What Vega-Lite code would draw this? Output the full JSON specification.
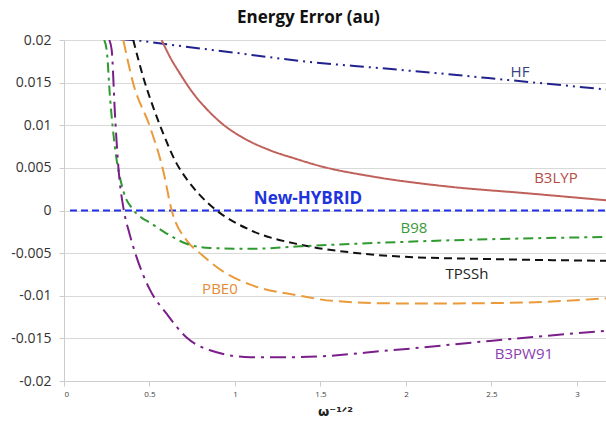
{
  "$schema": "https://vega.github.io/schema/vega-lite/v6.json",
  "width": 542,
  "height": 341,
  "autosize": {"type": "none"},
  "padding": {"left": 64, "top": 40, "right": 0, "bottom": 44},
  "background": "white",
  "title": {"text": "Energy Error (au)", "font": "Open Sans", "fontSize": 17, "fontWeight": "bold", "color": "#111111", "anchor": "middle", "frame": "bounds", "offset": 6},
  "config": {"view": {"stroke": null}},
  "datasets": {
    "curves": [
      {"series": "HF", "x": 0.33, "y": 0.0201},
      {"series": "HF", "x": 0.45, "y": 0.0199},
      {"series": "HF", "x": 0.6, "y": 0.0195},
      {"series": "HF", "x": 1.0, "y": 0.0185},
      {"series": "HF", "x": 1.4, "y": 0.0175},
      {"series": "HF", "x": 1.85, "y": 0.0167},
      {"series": "HF", "x": 2.24, "y": 0.016},
      {"series": "HF", "x": 2.6, "y": 0.0153},
      {"series": "HF", "x": 3.17, "y": 0.0142},
      {"series": "B3LYP", "x": 0.571, "y": 0.02},
      {"series": "B3LYP", "x": 0.62, "y": 0.018},
      {"series": "B3LYP", "x": 0.68, "y": 0.016},
      {"series": "B3LYP", "x": 0.75, "y": 0.0139},
      {"series": "B3LYP", "x": 0.83, "y": 0.012},
      {"series": "B3LYP", "x": 0.93, "y": 0.0101},
      {"series": "B3LYP", "x": 1.05, "y": 0.0085},
      {"series": "B3LYP", "x": 1.2, "y": 0.0071},
      {"series": "B3LYP", "x": 1.35, "y": 0.0061},
      {"series": "B3LYP", "x": 1.5, "y": 0.0052},
      {"series": "B3LYP", "x": 1.8, "y": 0.004},
      {"series": "B3LYP", "x": 2.25, "y": 0.0028},
      {"series": "B3LYP", "x": 2.72, "y": 0.002},
      {"series": "B3LYP", "x": 3.17, "y": 0.0012},
      {"series": "New-HYBRID", "x": 0.035, "y": 0},
      {"series": "New-HYBRID", "x": 3.17, "y": 0},
      {"series": "TPSSh", "x": 0.405, "y": 0.02},
      {"series": "TPSSh", "x": 0.464, "y": 0.0156},
      {"series": "TPSSh", "x": 0.522, "y": 0.0121},
      {"series": "TPSSh", "x": 0.581, "y": 0.009},
      {"series": "TPSSh", "x": 0.659, "y": 0.0055},
      {"series": "TPSSh", "x": 0.717, "y": 0.0037},
      {"series": "TPSSh", "x": 0.795, "y": 0.0018},
      {"series": "TPSSh", "x": 0.893, "y": 0},
      {"series": "TPSSh", "x": 1.09, "y": -0.0023},
      {"series": "TPSSh", "x": 1.38, "y": -0.004},
      {"series": "TPSSh", "x": 1.67, "y": -0.0049},
      {"series": "TPSSh", "x": 1.96, "y": -0.0054},
      {"series": "TPSSh", "x": 2.5, "y": -0.0057},
      {"series": "TPSSh", "x": 3.17, "y": -0.0059},
      {"series": "PBE0", "x": 0.347, "y": 0.02},
      {"series": "PBE0", "x": 0.405, "y": 0.0149},
      {"series": "PBE0", "x": 0.503, "y": 0.0098},
      {"series": "PBE0", "x": 0.58, "y": 0.0047},
      {"series": "PBE0", "x": 0.63, "y": 0},
      {"series": "PBE0", "x": 0.717, "y": -0.0035},
      {"series": "PBE0", "x": 0.795, "y": -0.005},
      {"series": "PBE0", "x": 0.95, "y": -0.0074},
      {"series": "PBE0", "x": 1.09, "y": -0.0087},
      {"series": "PBE0", "x": 1.38, "y": -0.01},
      {"series": "PBE0", "x": 1.57, "y": -0.0106},
      {"series": "PBE0", "x": 1.96, "y": -0.0109},
      {"series": "PBE0", "x": 2.2, "y": -0.0109},
      {"series": "PBE0", "x": 2.68, "y": -0.0108},
      {"series": "PBE0", "x": 3.17, "y": -0.0103},
      {"series": "B98", "x": 0.235, "y": 0.02},
      {"series": "B98", "x": 0.25, "y": 0.0188},
      {"series": "B98", "x": 0.269, "y": 0.0133},
      {"series": "B98", "x": 0.298, "y": 0.0074},
      {"series": "B98", "x": 0.347, "y": 0.0023},
      {"series": "B98", "x": 0.4, "y": 0.0002},
      {"series": "B98", "x": 0.45, "y": -0.0008},
      {"series": "B98", "x": 0.5, "y": -0.0014},
      {"series": "B98", "x": 0.6, "y": -0.0027},
      {"series": "B98", "x": 0.717, "y": -0.0039},
      {"series": "B98", "x": 0.854, "y": -0.0044},
      {"series": "B98", "x": 1.09, "y": -0.0045},
      {"series": "B98", "x": 1.38, "y": -0.0042},
      {"series": "B98", "x": 1.96, "y": -0.0037},
      {"series": "B98", "x": 2.26, "y": -0.0035},
      {"series": "B98", "x": 3.17, "y": -0.0031},
      {"series": "B3PW91", "x": 0.265, "y": 0.02},
      {"series": "B3PW91", "x": 0.279, "y": 0.0188},
      {"series": "B3PW91", "x": 0.298, "y": 0.0113},
      {"series": "B3PW91", "x": 0.318, "y": 0.0051},
      {"series": "B3PW91", "x": 0.35, "y": 0},
      {"series": "B3PW91", "x": 0.38, "y": -0.0025},
      {"series": "B3PW91", "x": 0.42, "y": -0.0052},
      {"series": "B3PW91", "x": 0.5, "y": -0.0092},
      {"series": "B3PW91", "x": 0.6, "y": -0.0121},
      {"series": "B3PW91", "x": 0.717, "y": -0.0149},
      {"series": "B3PW91", "x": 0.854, "y": -0.0164},
      {"series": "B3PW91", "x": 1.09, "y": -0.0172},
      {"series": "B3PW91", "x": 1.36, "y": -0.0172},
      {"series": "B3PW91", "x": 1.91, "y": -0.0164},
      {"series": "B3PW91", "x": 2.49, "y": -0.0153},
      {"series": "B3PW91", "x": 3.17, "y": -0.0141}
    ],
    "labels": [
      {"label": "HF", "x": 2.667, "y": 0.0162},
      {"label": "B3LYP", "x": 2.877, "y": 0.0038},
      {"label": "B98", "x": 2.047, "y": -0.002},
      {"label": "TPSSh", "x": 2.357, "y": -0.0074},
      {"label": "PBE0", "x": 0.912, "y": -0.0092},
      {"label": "B3PW91", "x": 2.69, "y": -0.0168}
    ],
    "boldlabels": [
      {"label": "New-HYBRID", "x": 1.427, "y": 0.0013}
    ]
  },
  "layer": [
    {
      "data": {"name": "curves"},
      "mark": {"type": "line", "interpolate": "monotone", "clip": true},
      "encoding": {
        "x": {
          "field": "x", "type": "quantitative",
          "scale": {"domain": [0, 3.17], "nice": false, "zero": false},
          "axis": {
            "values": [0, 0.5, 1, 1.5, 2, 2.5, 3],
            "labelExpr": "datum.value + ''",
            "labelFont": "Open Sans", "labelFontSize": 8, "labelColor": "#444444",
            "tickSize": 5, "tickColor": "#cccccc", "domainColor": "#cccccc",
            "labelPadding": 4, "grid": false,
            "title": "ω⁻¹ᐟ²", "titleFont": "DejaVu Sans", "titleFontSize": 13, "titleFontWeight": "bold", "titleColor": "#222222", "titlePadding": 7
          }
        },
        "y": {
          "field": "y", "type": "quantitative",
          "scale": {"domain": [-0.02, 0.02], "nice": false},
          "axis": {
            "values": [-0.02, -0.015, -0.01, -0.005, 0, 0.005, 0.01, 0.015, 0.02],
            "labelExpr": "datum.value + ''",
            "labelFont": "Open Sans", "labelFontSize": 14, "labelColor": "#333333",
            "tickSize": 5, "tickColor": "#cccccc", "domainColor": "#cccccc",
            "gridColor": "#d9d9d9", "labelPadding": 8, "title": null
          }
        },
        "color": {
          "field": "series", "type": "nominal", "legend": null,
          "scale": {
            "domain": ["HF", "B3LYP", "New-HYBRID", "TPSSh", "PBE0", "B98", "B3PW91"],
            "range": ["#22228f", "#c0605a", "#2030e8", "#111111", "#ea9a3a", "#2f9a2f", "#7a1f8a"]
          }
        },
        "strokeDash": {
          "field": "series", "type": "nominal", "legend": null,
          "scale": {
            "domain": ["HF", "B3LYP", "New-HYBRID", "TPSSh", "PBE0", "B98", "B3PW91"],
            "range": [[14, 5, 2, 5, 2, 5], [1, 0], [7, 4], [8, 5], [13, 6], [10, 5, 3, 5], [16, 6, 3, 6]]
          }
        },
        "strokeWidth": {
          "field": "series", "type": "nominal", "legend": null,
          "scale": {
            "domain": ["HF", "B3LYP", "New-HYBRID", "TPSSh", "PBE0", "B98", "B3PW91"],
            "range": [2, 2, 3, 2.5, 2.5, 2.5, 2.5]
          }
        }
      }
    },
    {
      "data": {"name": "labels"},
      "mark": {"type": "text", "font": "Open Sans", "fontSize": 15},
      "encoding": {
        "x": {"field": "x", "type": "quantitative"},
        "y": {"field": "y", "type": "quantitative"},
        "text": {"field": "label"},
        "color": {
          "field": "label", "type": "nominal", "legend": null,
          "scale": {
            "domain": ["HF", "B3LYP", "B98", "TPSSh", "PBE0", "B3PW91"],
            "range": ["#3a3f80", "#b34d45", "#3a9a3a", "#222222", "#e58a35", "#8a3db0"]
          }
        }
      }
    },
    {
      "data": {"name": "boldlabels"},
      "mark": {"type": "text", "font": "Open Sans", "fontSize": 17, "fontWeight": "bold", "color": "#2033dd"},
      "encoding": {
        "x": {"field": "x", "type": "quantitative"},
        "y": {"field": "y", "type": "quantitative"},
        "text": {"field": "label"}
      }
    }
  ],
  "resolve": {"scale": {"color": "independent"}}
}
